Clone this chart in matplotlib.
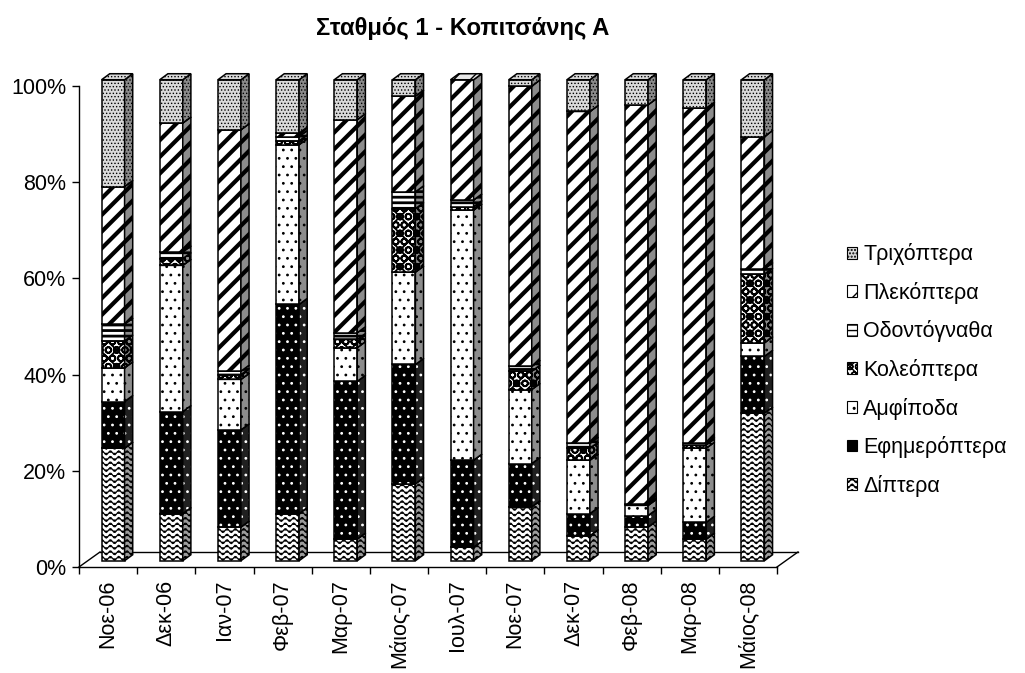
import warnings
import numpy as np
import matplotlib
matplotlib.use('Agg')
import matplotlib.pyplot as plt
import matplotlib.hatch as mhatch
from matplotlib.path import Path
from matplotlib.patches import Polygon, Patch

warnings.filterwarnings('ignore')
plt.rcParams['font.family'] = ['Liberation Sans', 'DejaVu Sans']

# ---------------- data ----------------
categories = ['Νοε-06', 'Δεκ-06', 'Ιαν-07', 'Φεβ-07', 'Μαρ-07', 'Μάιος-07',
              'Ιουλ-07', 'Νοε-07', 'Δεκ-07', 'Φεβ-08', 'Μαρ-08', 'Μάιος-08']
diptera = [23.4, 9.8, 7.0, 9.8, 4.5, 16.0, 2.8, 11.2, 5.2, 7.0, 4.5, 30.7]
efimeroptera = [9.7, 21.2, 20.2, 43.5, 32.8, 24.8, 18.1, 9.0, 4.6, 2.4, 3.5, 11.8]
amfipoda = [7.0, 30.4, 10.5, 33.2, 7.0, 19.2, 52.0, 15.4, 11.1, 2.1, 15.4, 2.8]
koleoptera = [5.6, 1.4, 1.0, 0.8, 1.7, 13.2, 0.7, 3.8, 2.5, 0.2, 0.7, 14.3]
odontognatha = [3.5, 1.4, 0.7, 0.9, 1.4, 3.5, 1.4, 1.0, 1.0, 0.2, 0.3, 1.1]
plekoptera = [28.6, 26.8, 50.2, 0.7, 44.3, 19.9, 25.0, 58.3, 69.0, 82.9, 69.7, 27.5]
trichoptera = [22.2, 9.0, 10.4, 11.1, 8.3, 3.4, 0.0, 1.3, 6.6, 5.2, 5.9, 11.8]

series_names = ['Δίπτερα', 'Εφημερόπτερα', 'Αμφίποδα', 'Κολεόπτερα',
                'Οδοντόγναθα', 'Πλεκόπτερα', 'Τριχόπτερα']
series_values = [diptera, efimeroptera, amfipoda, koleoptera,
                 odontognatha, plekoptera, trichoptera]
yticks = [0, 20, 40, 60, 80, 100]
ytick_labels = ['0%', '20%', '40%', '60%', '80%', '100%']
title = 'Σταθμός 1 - Κοπιτσάνης Α'


# ---------------- custom wavy hatch ----------------
class WaveHatch(mhatch.HatchPatternBase):
    npts = 81
    periods = 12
    amp = 0.02

    def __init__(self, hatch, density):
        self.num_lines = int(hatch.count('~') * density)
        self.num_vertices = self.num_lines * self.npts

    def set_vertices_and_codes(self, vertices, codes):
        m = self.npts
        x = np.linspace(0, 1, m)
        i = 0
        for r in range(self.num_lines):
            y0 = (r + 0.5) / self.num_lines
            vertices[i:i + m, 0] = x
            vertices[i:i + m, 1] = y0 + self.amp * np.sin(2 * np.pi * self.periods * x)
            codes[i] = Path.MOVETO
            codes[i + 1:i + m] = Path.LINETO
            i += m


mhatch._hatch_types.append(WaveHatch)

# style per series: (front fc, hatch, hatch color, hatch lw, side fc, side hatch, top fc)
styles = [
    ('white', '~~~', 'black', 0.8, '#9c9c9c', '~~~', '#e6e6e6'),
    ('black', '..', 'white', 0.8, '#202020', '..', '#404040'),
    ('white', '..', 'black', 0.8, '#8c8c8c', '..', '#f0f0f0'),
    ('white', 'OOxx', 'black', 1.3, '#8c8c8c', 'OOxx', '#e0e0e0'),
    ('white', '---', 'black', 2.0, '#8c8c8c', '---', '#e0e0e0'),
    ('white', '//', 'black', 3.0, '#8c8c8c', '//', '#e8e8e8'),
    ('#dadada', '.....', 'black', 0.6, '#8a8a8a', '.....', '#d8d8d8'),
]

# ---------------- figure ----------------
W, H = 1025, 673
fig = plt.figure(figsize=(W / 100, H / 100), dpi=100)
ax = fig.add_axes([79 / W, 106 / H, 698 / W, 481 / H])
n = len(categories)
ax.set_xlim(0, n)
ax.set_ylim(0, 100)

# geometry (category units / percent units)
bar_w = 0.395
shift_x = 0.086
shift_y = 1.3
depth_x = 0.14
depth_y = 1.25
floor_dx = 0.361
floor_dy = 3.12

# floor
ax.plot([floor_dx, n + floor_dx], [floor_dy, floor_dy], color='black', lw=1.0,
        clip_on=False, zorder=0.5)
ax.plot([0, floor_dx], [0, floor_dy], color='black', lw=1.0, clip_on=False, zorder=0.5)
ax.plot([n, n + floor_dx], [0, floor_dy], color='black', lw=1.0, clip_on=False, zorder=0.5)


def add_face(pts, fc, hatch, hc, hlw):
    p = Polygon(pts, closed=True, facecolor=fc, edgecolor=hc if hatch else fc,
                hatch=hatch, linewidth=0, clip_on=False, zorder=2)
    if hatch and hasattr(p, 'set_hatch_linewidth'):
        p.set_hatch_linewidth(hlw)
    ax.add_patch(p)
    o = Polygon(pts, closed=True, fill=False, edgecolor='black', linewidth=1.1,
                clip_on=False, zorder=2, joinstyle='miter')
    ax.add_patch(o)


values = np.array(series_values, dtype=float)
totals = values.sum(axis=0)
pct = values / totals * 100.0

for i in range(n):
    x0 = i + 0.5 - bar_w / 2 + shift_x
    x1 = x0 + bar_w
    bottom = 0.0
    for s in range(len(series_names)):
        h = pct[s, i]
        if h <= 0:
            continue
        fc, hatch, hc, hlw, sfc, shatch, tfc = styles[s]
        y0 = bottom + shift_y
        y1 = bottom + h + shift_y
        front = [(x0, y0), (x1, y0), (x1, y1), (x0, y1)]
        side = [(x1, y0), (x1 + depth_x, y0 + depth_y), (x1 + depth_x, y1 + depth_y), (x1, y1)]
        top = [(x0, y1), (x1, y1), (x1 + depth_x, y1 + depth_y), (x0 + depth_x, y1 + depth_y)]
        add_face(front, fc, hatch, hc, hlw)
        add_face(side, sfc, shatch, 'black' if s != 1 else 'white', hlw)
        add_face(top, tfc, hatch, hc, min(hlw, 1.0))
        bottom += h

# axes styling
for sp in ['top', 'right']:
    ax.spines[sp].set_visible(False)
ax.spines['left'].set_linewidth(1.0)
ax.spines['bottom'].set_linewidth(1.0)
ax.set_yticks(yticks)
ax.set_yticklabels(ytick_labels, fontsize=15.5)
ax.tick_params(axis='y', direction='out', length=5, width=1.0, pad=4)
ax.set_xticks(np.arange(n) + 0.5)
ax.set_xticklabels(categories, rotation=90, fontsize=15.5)
ax.set_xticks(np.arange(n + 1), minor=True)
ax.tick_params(axis='x', which='major', length=0, pad=9)
ax.tick_params(axis='x', which='minor', direction='out', length=5, width=1.0)
ax.patch.set_visible(False)

fig.text(463 / W, 1 - 28 / H, title, ha='center', va='center', fontsize=17.2,
         fontweight='bold')

# legend
handles = []
for s in range(len(series_names)):
    fc, hatch, hc, hlw, sfc, shatch, tfc = styles[s]
    hp = Patch(facecolor=fc, edgecolor='black', hatch=hatch, linewidth=0.8)
    if hasattr(hp, 'set_hatch_linewidth'):
        hp.set_hatch_linewidth(min(hlw, 1.2))
    handles.append(hp)
leg = fig.legend(handles[::-1], series_names[::-1], loc='center left',
                 bbox_to_anchor=(838 / W, 1 - 370 / H), frameon=False,
                 fontsize=15.5, handlelength=0.47, handleheight=0.47,
                 handletextpad=0.3, labelspacing=0.77, borderaxespad=0)

fig.savefig('out.png', dpi=100)
